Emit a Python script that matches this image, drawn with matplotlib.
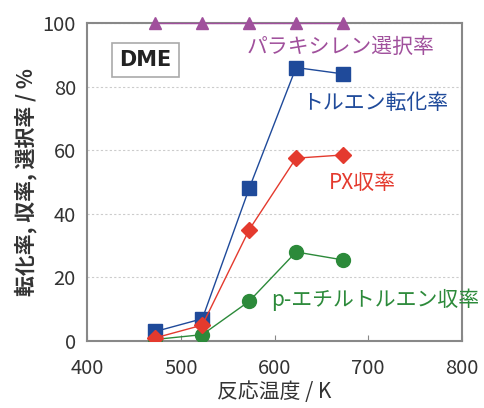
import matplotlib
matplotlib.use("Agg")
import matplotlib.pyplot as plt

plt.rcParams['font.family'] = ['Noto Sans CJK JP', 'DejaVu Sans']

# Reaction temperatures (K)
temperature = [473, 523, 573, 623, 673]
# Para-xylene selectivity (%)
px_selectivity = [100, 100, 100, 100, 100]
# Toluene conversion (%)
toluene_conversion = [3, 7, 48, 86, 84]
# Para-xylene yield (%)
px_yield = [1, 5, 35, 57.5, 58.5]
# p-Ethyltoluene yield (%)
pet_yield = [0.5, 2, 12.5, 28, 25.5]

x_ticks = [400, 500, 600, 700, 800]
y_ticks = [0, 20, 40, 60, 80, 100]

fig = plt.figure(figsize=(4.84, 4.08), dpi=100)
ax = fig.add_axes([0.1798, 0.1642, 0.7747, 0.7794])

c_purple = '#a0509c'
c_blue = '#1f4a9a'
c_red = '#e43a2e'
c_green = '#2c8a3a'

ax.plot(temperature, pet_yield, '-o', color=c_green, lw=1.0, ms=10, zorder=3)
ax.plot(temperature, px_yield, '-D', color=c_red, lw=1.0, ms=8, zorder=4)
ax.plot(temperature, toluene_conversion, '-s', color=c_blue, lw=1.0, ms=10, zorder=3,
        markerfacecolor=c_blue)
ax.plot(temperature, px_selectivity, '-^', color=c_purple, lw=1.0, ms=9, zorder=5,
        clip_on=False)

ax.set_xlim(400, 800)
ax.set_ylim(0, 100)
ax.set_xticks(x_ticks)
ax.set_yticks(y_ticks)
ax.tick_params(axis='both', labelsize=14.5, labelcolor='#333333', color='#888888',
               direction='in', length=4)
ax.tick_params(axis='x', pad=12)
ax.tick_params(axis='y', length=0, pad=8)
ax.yaxis.grid(True, linestyle=(0, (2, 2)), color='#cccccc', lw=0.8)
ax.set_axisbelow(True)
for s in ax.spines.values():
    s.set_color('#888888')
    s.set_linewidth(1.5)

ax.set_xlabel('反応温度 / K', fontsize=15, color='#333333', labelpad=2)
ax.set_ylabel('転化率, 収率, 選択率 / %', fontsize=15, fontweight='bold',
              color='#333333', labelpad=4)

ax.text(0.155, 0.884, 'DME', transform=ax.transAxes, ha='center', va='center',
        fontsize=15, fontweight='bold', color='#222222', family='DejaVu Sans',
        bbox=dict(boxstyle='square,pad=0.35', fc='white', ec='#aaaaaa', lw=1.2))

ax.text(670, 92.5, 'パラキシレン選択率', color=c_purple, fontsize=15,
        ha='center', va='center')
ax.text(707, 74.8, 'トルエン転化率', color=c_blue, fontsize=15,
        ha='center', va='center')
ax.text(694, 49.7, 'PX収率', color=c_red, fontsize=15,
        ha='center', va='center')
ax.text(707, 12.9, 'p-エチルトルエン収率', color=c_green, fontsize=15,
        ha='center', va='center', clip_on=False)

fig.savefig('out.png', dpi=100)
